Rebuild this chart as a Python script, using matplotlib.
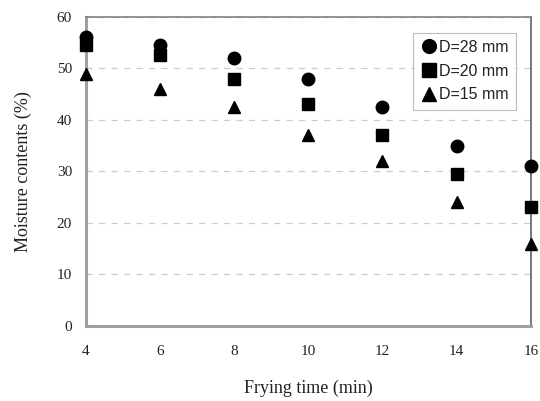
import matplotlib.pyplot as plt

time_min = [4, 6, 8, 10, 12, 14, 16]
d28 = [56, 54.5, 52, 48, 42.5, 35, 31]
d20 = [54.5, 52.5, 48, 43, 37, 29.5, 23]
d15 = [49, 46, 42.5, 37, 32, 24, 16]
labels = ['D=28 mm', 'D=20 mm', 'D=15 mm']

fig = plt.figure(figsize=(5.4, 4.01), dpi=100)
ax = fig.add_axes([0.159, 0.187, 0.824, 0.771])

ax.plot(time_min, d28, 'o', color='black', ms=9, clip_on=False, label=labels[0], zorder=3)
ax.plot(time_min, d20, 's', color='black', ms=9, clip_on=False, label=labels[1], zorder=3)
ax.plot(time_min, d15, '^', color='black', ms=9, clip_on=False, label=labels[2], zorder=3)

ax.set_xlim(4, 16)
ax.set_ylim(0, 60)
ax.set_xticks(range(4, 17, 2))
ax.set_yticks(range(0, 61, 10))
ax.yaxis.grid(True, linestyle=(0, (5, 5)), color='#cccccc', linewidth=0.9)
ax.set_axisbelow(True)

for side in ['left', 'bottom']:
    ax.spines[side].set_color('#a0a0a0')
    ax.spines[side].set_linewidth(2.2)
ax.spines['top'].set_color('#808080')
ax.spines['top'].set_linewidth(1.2)
ax.spines['right'].set_color('#606060')
ax.spines['right'].set_linewidth(1.2)

ax.tick_params(axis='x', length=0, pad=14, labelsize=11, colors='#222222')
ax.tick_params(axis='y', length=0, pad=10, labelsize=11, colors='#222222')
for t in ax.get_xticklabels() + ax.get_yticklabels():
    t.set_family('Liberation Serif')

ax.set_xlabel('Frying time (min)', family='Liberation Serif', fontsize=13, labelpad=15, color='#222222')
ax.set_ylabel('Moisture contents (%)', family='Liberation Serif', fontsize=13, labelpad=18, color='#222222')

leg = ax.legend(loc='upper right', bbox_to_anchor=(0.985, 0.975), frameon=True, fancybox=False,
                edgecolor='#aaaaaa', handletextpad=0.1, handlelength=1.1, borderpad=0.45,
                labelspacing=0.55, markerscale=1.1,
                prop={'family': 'Liberation Sans', 'size': 11.5})
leg.get_frame().set_linewidth(0.8)
for t in leg.get_texts():
    t.set_color('#222222')

fig.savefig('out.png', dpi=100)
